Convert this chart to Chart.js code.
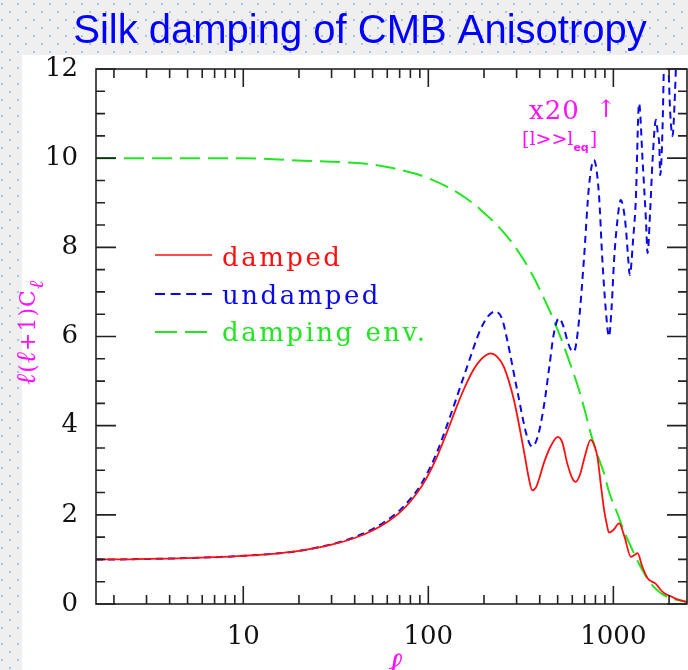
<!DOCTYPE html>
<html><head><meta charset="utf-8">
<script src="https://cdn.jsdelivr.net/npm/chart.js@4"></script>
<style>html,body{margin:0;padding:0;background:#efefef;overflow:hidden}canvas{display:block}</style>
</head><body>
<canvas id="c" width="688" height="670"></canvas>
<script>
// ---------- data ----------
const titleText = 'Silk damping of CMB Anisotropy';
const seriesNames = ['damped', 'undamped', 'damping env.'];
const xTickValues = [10, 100, 1000];
const xTickLabels = ['10', '100', '1000'];
const yTickValues = [0, 2, 4, 6, 8, 10, 12];
const yTickLabels = ['0', '2', '4', '6', '8', '10', '12'];

const lDamped = [1.6,2,3,4,5,7,10,15,20,30,40,50,60,70,80,94,110,126,140,155,175,191,205,217,235,256,290,328,350,364,380,400,421,460,501,530,563,600,625,660,700,754,790,820,860,891,920,947,1000,1075,1150,1243,1300,1352,1430,1531,1620,1698,1800,1884,2046,2200,2318,2500];
const damped = [1.0,1.0,1.01,1.02,1.03,1.05,1.08,1.13,1.19,1.33,1.48,1.65,1.84,2.05,2.3,2.7,3.25,3.85,4.35,4.8,5.25,5.47,5.58,5.62,5.55,5.32,4.58,3.45,2.8,2.55,2.6,2.85,3.16,3.55,3.75,3.62,3.16,2.82,2.74,2.9,3.3,3.68,3.55,3.3,2.6,2.11,1.8,1.6,1.66,1.81,1.5,1.06,1.1,1.14,0.85,0.58,0.5,0.45,0.32,0.24,0.17,0.11,0.08,0.04];

const lUndamped = [1.6,2,3,4,5,7,10,15,20,30,40,50,60,70,80,90,110,131,162,191,210,230,250,267,302,342,364,390,421,450,477,508,540,563,590,612,650,693,738,785,835,872,910,947,980,1009,1052,1096,1130,1167,1200,1227,1280,1322,1377,1438,1500,1531,1580,1629,1698,1745,1770,1791,1845,1880,1920,1970,2030,2090,2140,2200,2260,2500];
const undamped = [1.0,1.0,1.01,1.02,1.03,1.05,1.08,1.13,1.19,1.34,1.5,1.68,1.88,2.1,2.36,2.64,3.35,4.2,5.32,6.15,6.45,6.56,6.4,5.92,4.8,3.75,3.53,3.75,4.43,5.3,6.07,6.41,6.2,5.92,5.7,5.66,6.3,7.72,9.36,9.96,9.21,7.72,6.6,6.0,6.7,7.72,8.61,9.06,8.9,8.46,7.8,7.38,8.2,9.06,11.23,9.96,8.61,7.87,8.8,9.96,10.86,10.5,10.33,9.62,10.71,12.3,13,12.4,11.0,10.5,11.2,12.5,13.5,15];

const lEnvelope = [1.6,10,19.5,30,44.8,60,83.6,100,126,160,192,240,291,358,441,500,543,600,641,700,754,820,891,950,1052,1150,1243,1350,1466,1600,1806,2000,2224,2500];
const envelope = [10,10,9.95,9.92,9.88,9.8,9.66,9.55,9.36,9.1,8.84,8.46,8.04,7.45,6.68,6.15,5.76,5.25,4.9,4.35,3.83,3.35,2.93,2.5,2.03,1.6,1.29,0.97,0.69,0.45,0.24,0.14,0.09,0.05];

// ---------- styles ----------
const RED = '#ff1010', BLUE = '#0a0ae8', GREEN = '#22e622', MAGENTA = '#ff10ff';
const SERIF = "'DejaVu Serif', serif";
const pts = (xs, ys) => xs.map((x, i) => ({x: x, y: ys[i]}));

const decor = {
  id: 'decor',
  beforeDraw(chart) {
    const ctx = chart.ctx;
    ctx.save();
    ctx.fillStyle = '#efefef';
    ctx.fillRect(0, 0, chart.width, chart.height);
    ctx.fillStyle = '#a9c6ea';
    for (let r = 0; r * 8 < chart.height; r++) {
      const off = (r % 2) ? 9 : 1;
      for (let x = off; x < chart.width; x += 16) ctx.fillRect(x, 3 + r * 8, 2, 2);
    }
    ctx.fillStyle = '#ffffff';
    ctx.fillRect(22, 55, chart.width - 22, chart.height - 55);
    ctx.fillStyle = '#0000ff';
    ctx.font = "40px 'Liberation Sans', Arial, sans-serif";
    ctx.textAlign = 'center';
    ctx.textBaseline = 'alphabetic';
    ctx.fillText(titleText, 360, 43);
    ctx.restore();
  },
  afterDatasetsDraw(chart) {
    const ctx = chart.ctx, a = chart.chartArea, xs = chart.scales.x, ys = chart.scales.y;
    ctx.save();
    // frame
    ctx.strokeStyle = '#222';
    ctx.lineWidth = 1.6;
    ctx.setLineDash([]);
    ctx.strokeRect(a.left, a.top, a.right - a.left, a.bottom - a.top);
    // x ticks (bottom and top)
    ctx.beginPath();
    for (let d = 0; d <= 3; d++) {
      for (let k = 1; k <= 9; k++) {
        const v = k * Math.pow(10, d);
        if (v < xs.min || v > xs.max) continue;
        const px = xs.getPixelForValue(v);
        const len = k === 1 ? 18 : 9;
        ctx.moveTo(px, a.bottom); ctx.lineTo(px, a.bottom - len);
        ctx.moveTo(px, a.top); ctx.lineTo(px, a.top + len);
      }
    }
    // y ticks (left and right)
    for (let i = 0; i <= 24; i++) {
      const v = i * 0.5;
      const py = ys.getPixelForValue(v);
      const len = (i % 4 === 0) ? 20 : 9;
      ctx.moveTo(a.left, py); ctx.lineTo(a.left + len, py);
      ctx.moveTo(a.right, py); ctx.lineTo(a.right - len, py);
    }
    ctx.stroke();

    // legend
    const leg = [
      {c: RED, dash: [], w: 1.6, y: 255, ty: 266},
      {c: BLUE, dash: [10, 5.6], w: 2, y: 294, ty: 304},
      {c: GREEN, dash: [22, 8], w: 2, y: 332, ty: 341}
    ];
    ctx.font = '26px ' + SERIF;
    ctx.textAlign = 'left';
    ctx.textBaseline = 'alphabetic';
    leg.forEach((L, i) => {
      ctx.strokeStyle = L.c; ctx.lineWidth = L.w; ctx.setLineDash(L.dash);
      ctx.beginPath(); ctx.moveTo(155, L.y); ctx.lineTo(212, L.y); ctx.stroke();
      ctx.fillStyle = L.c;
      ctx.letterSpacing = '2.5px';
      ctx.fillText(seriesNames[i], 222, L.ty);
      ctx.letterSpacing = '0px';
    });
    ctx.setLineDash([]);

    // annotation x20 ↑ [l>>l_eq]
    ctx.fillStyle = MAGENTA;
    ctx.font = '26px ' + SERIF;
    ctx.letterSpacing = '1px';
    ctx.fillText('x20', 529, 119);
    ctx.letterSpacing = '0px';
    ctx.font = '24px ' + SERIF;
    ctx.fillText('\u2191', 596, 117);
    ctx.font = '19px ' + SERIF;
    let x = 522;
    ctx.fillText('[l>>l', x, 145); x += ctx.measureText('[l>>l').width;
    ctx.font = "bold 11px 'DejaVu Sans', sans-serif";
    ctx.fillText('eq', x, 151); x += ctx.measureText('eq').width + 1;
    ctx.font = '19px ' + SERIF;
    ctx.fillText(']', x, 145);

    // x axis title
    ctx.font = 'italic 34px ' + SERIF;
    ctx.textAlign = 'center';
    ctx.fillText('\u2113', 395, 676);

    // y axis title (rotated)
    ctx.save();
    ctx.translate(35, 385);
    ctx.rotate(-Math.PI / 2);
    ctx.textAlign = 'left';
    const parts = [
      {t: '\u2113', f: 'italic 27px ' + SERIF, dy: 0},
      {t: '(', f: '22px ' + SERIF, dy: 0},
      {t: '\u2113', f: 'italic 27px ' + SERIF, dy: 0},
      {t: '+1)C', f: '22px ' + SERIF, dy: 0},
      {t: '\u2113', f: 'italic 20px ' + SERIF, dy: 8}
    ];
    let px = 0;
    parts.forEach(p => {
      ctx.font = p.f;
      ctx.letterSpacing = '1px';
      ctx.fillText(p.t, px, p.dy);
      px += ctx.measureText(p.t).width;
    });
    ctx.letterSpacing = '0px';
    ctx.restore();

    ctx.restore();
  }
};

new Chart(document.getElementById('c'), {
  type: 'line',
  data: {
    datasets: [
      {label: seriesNames[0], data: pts(lDamped, damped), borderColor: RED, borderWidth: 1.8, pointRadius: 0, cubicInterpolationMode: 'monotone', fill: false},
      {label: seriesNames[1], data: pts(lUndamped, undamped), borderColor: BLUE, borderWidth: 2, borderDash: [7, 5], pointRadius: 0, cubicInterpolationMode: 'monotone', fill: false},
      {label: seriesNames[2], data: pts(lEnvelope, envelope), borderColor: GREEN, borderWidth: 2, borderDash: [20, 8], pointRadius: 0, cubicInterpolationMode: 'monotone', fill: false}
    ]
  },
  options: {
    responsive: false,
    animation: false,
    layout: {padding: {top: 69, right: 1, left: 0, bottom: 0}},
    plugins: {legend: {display: false}, tooltip: {enabled: false}, title: {display: false}},
    scales: {
      x: {
        type: 'logarithmic', min: 1.6, max: 2500,
        afterBuildTicks: s => { s.ticks = xTickValues.map(v => ({value: v})); },
        afterFit: s => { s.height = 66; },
        grid: {display: false, drawTicks: false},
        border: {display: false},
        ticks: {
          autoSkip: false, maxRotation: 0, padding: 18, color: '#111',
          font: {family: SERIF, size: 26},
          callback: (v, i) => xTickLabels[i]
        }
      },
      y: {
        type: 'linear', min: 0, max: 12,
        afterBuildTicks: s => { s.ticks = yTickValues.map(v => ({value: v})); },
        afterFit: s => { s.width = 96; },
        grid: {display: false, drawTicks: false},
        border: {display: false},
        ticks: {
          padding: 18, color: '#111',
          font: {family: SERIF, size: 26},
          callback: (v, i) => yTickLabels[i]
        }
      }
    }
  },
  plugins: [decor]
});
</script>
</body></html>
